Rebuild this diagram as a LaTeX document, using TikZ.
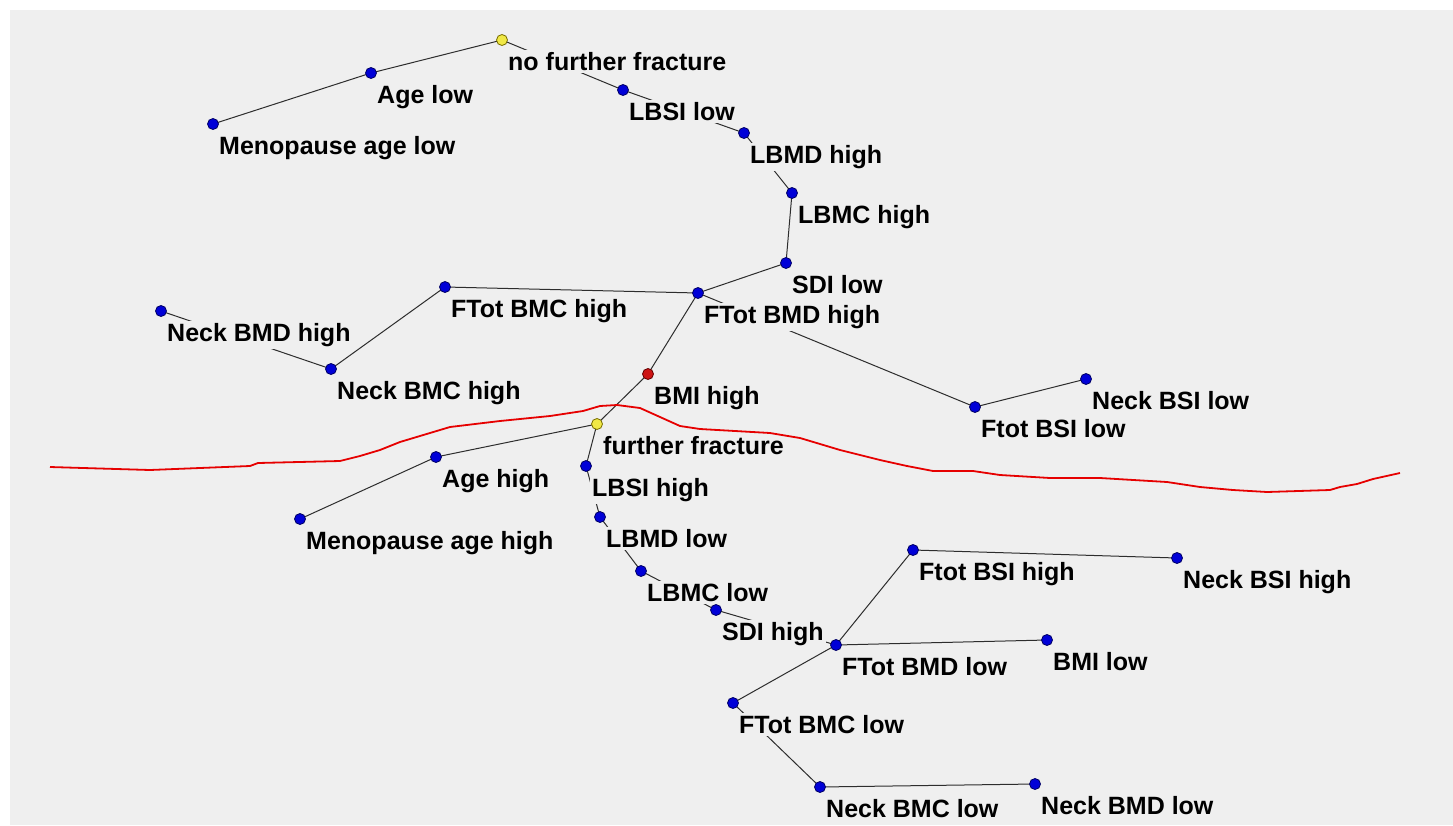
\documentclass[tikz,border=0pt]{standalone}
\usepackage{fontspec}
\setmainfont{Liberation Sans}
\pgfdeclarelayer{back}
\pgfdeclarelayer{edges}
\pgfsetlayers{back,edges,main}
\definecolor{bgc}{RGB}{239,239,239}
\definecolor{dotblue}{RGB}{0,0,215}
\definecolor{dotblueline}{RGB}{0,0,100}
\definecolor{dotyellow}{RGB}{240,232,70}
\definecolor{dotyellowline}{RGB}{120,110,0}
\definecolor{dotred}{RGB}{205,20,20}
\definecolor{dotredline}{RGB}{100,0,0}
\definecolor{edgec}{RGB}{45,45,45}
\definecolor{curvec}{RGB}{230,0,0}
\newcommand\vnode[5]{%
  \node[#4] (#1) at (#2,#3) {};
  \node[lab] (#1l) at ([xshift=4pt,yshift=-30.5pt]#1.center) {#5};}
\begin{document}
\begin{tikzpicture}[x=1pt,y=-1pt,
  dotb/.style={circle,inner sep=0pt,minimum size=11pt,fill=dotblue,draw=dotblueline,line width=0.8pt},
  doty/.style={dotb,fill=dotyellow,draw=dotyellowline},
  dotr/.style={dotb,fill=dotred,draw=dotredline},
  lab/.style={anchor=base west,fill=bgc,inner sep=2pt,text=black,
    font=\bfseries\fontsize{25}{30}\selectfont},
  edge/.style={draw=edgec,line width=1pt},
  sep/.style={draw=curvec,line width=1.8pt,line join=round}]
\useasboundingbox (0,0) rectangle (1453,825);
\begin{pgfonlayer}{back}
  \fill[white] (0,0) rectangle (1453,825);
  \fill[bgc] (10,10) rectangle (1453,825);
\end{pgfonlayer}

\vnode{nff}{502}{40}{doty}{no further fracture}
\vnode{agel}{371}{73}{dotb}{Age low}
\vnode{mal}{213}{124}{dotb}{Menopause age low}
\vnode{lbsil}{623}{90}{dotb}{LBSI low}
\vnode{lbmdh}{744}{133}{dotb}{LBMD high}
\vnode{lbmch}{792}{193}{dotb}{LBMC high}
\vnode{sdil}{786}{263}{dotb}{SDI low}
\vnode{ftbmdh}{698}{293}{dotb}{FTot BMD high}
\vnode{ftbmch}{445}{287}{dotb}{FTot BMC high}
\vnode{nbmch}{331}{369}{dotb}{Neck BMC high}
\vnode{nbmdh}{161}{311}{dotb}{Neck BMD high}
\vnode{bmih}{648}{374}{dotr}{BMI high}
\vnode{ff}{597}{424}{doty}{further fracture}
\vnode{ftbsil}{975}{407}{dotb}{Ftot BSI low}
\vnode{nbsil}{1086}{379}{dotb}{Neck BSI low}
\vnode{ageh}{436}{457}{dotb}{Age high}
\vnode{mah}{300}{519}{dotb}{Menopause age high}
\vnode{lbsih}{586}{466}{dotb}{LBSI high}
\vnode{lbmdl}{600}{517}{dotb}{LBMD low}
\vnode{lbmcl}{641}{571}{dotb}{LBMC low}
\vnode{sdih}{716}{610}{dotb}{SDI high}
\vnode{ftbsih}{913}{550}{dotb}{Ftot BSI high}
\vnode{nbsih}{1177}{558}{dotb}{Neck BSI high}
\vnode{ftbmdl}{836}{645}{dotb}{FTot BMD low}
\vnode{bmil}{1047}{640}{dotb}{BMI low}
\vnode{ftbmcl}{733}{703}{dotb}{FTot BMC low}
\vnode{nbmcl}{820}{787}{dotb}{Neck BMC low}
\vnode{nbmdl}{1035}{784}{dotb}{Neck BMD low}

\begin{pgfonlayer}{edges}
  \draw[edge] (mal.center) -- (agel.center) -- (nff.center) -- (lbsil.center) -- (lbmdh.center)
    -- (lbmch.center) -- (sdil.center) -- (ftbmdh.center);
  \draw[edge] (ftbmdh.center) -- (ftbmch.center) -- (nbmch.center) -- (nbmdh.center);
  \draw[edge] (ftbmdh.center) -- (ftbsil.center) -- (nbsil.center);
  \draw[edge] (ftbmdh.center) -- (bmih.center) -- (ff.center) -- (ageh.center) -- (mah.center);
  \draw[edge] (ff.center) -- (lbsih.center) -- (lbmdl.center) -- (lbmcl.center) -- (sdih.center) -- (ftbmdl.center);
  \draw[edge] (ftbmdl.center) -- (ftbsih.center) -- (nbsih.center);
  \draw[edge] (ftbmdl.center) -- (bmil.center);
  \draw[edge] (ftbmdl.center) -- (ftbmcl.center) -- (nbmcl.center) -- (nbmdl.center);
\end{pgfonlayer}

\draw[sep] (50,467) -- (150,470) -- (250,466) -- (258,463) -- (340,461) -- (360,456)
  -- (380,450) -- (400,442) -- (420,436) -- (450,427) -- (500,421) -- (550,416)
  -- (583,411) -- (600,406) -- (617,405) -- (640,408) -- (660,417) -- (680,426)
  -- (700,429) -- (770,433) -- (800,438) -- (840,450) -- (880,460) -- (907,466)
  -- (933,471) -- (973,471) -- (1000,475) -- (1050,478) -- (1100,478) -- (1167,482)
  -- (1200,487) -- (1233,490) -- (1267,492) -- (1330,490) -- (1340,487) -- (1357,484)
  -- (1373,479) -- (1400,473);
\end{tikzpicture}
\end{document}
